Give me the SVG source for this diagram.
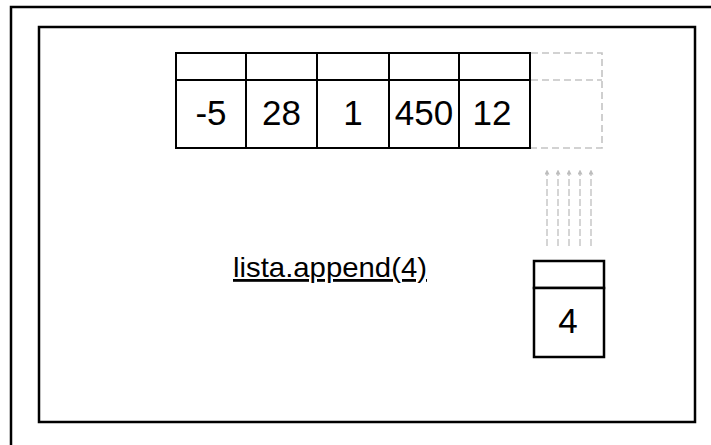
<svg xmlns="http://www.w3.org/2000/svg" width="711" height="445" viewBox="0 0 711 445">
  <style>
    .frame { fill: none; stroke: #000; stroke-width: 2.5; }
    .cell { fill: #fff; stroke: #000; stroke-width: 2; }
    .box { fill: #fff; stroke: #000; stroke-width: 2.5; }
    .ghost { fill: none; stroke: #c4c4c4; stroke-width: 1.6; stroke-dasharray: 7 4; }
    .val { font-family: "Liberation Sans", Arial, sans-serif; font-size: 35px; fill: #000; text-anchor: middle; }
    .code { font-family: "Liberation Sans", Arial, sans-serif; font-size: 28px; fill: #000; text-decoration: underline; }
    .flow { stroke: #c8c8c8; stroke-width: 1.5; stroke-dasharray: 7 3; fill: none; marker-end: url(#tip); }
  </style>
  <defs>
    <marker id="tip" viewBox="0 0 6 6" refX="3" refY="3" markerWidth="5" markerHeight="5" orient="auto" markerUnits="userSpaceOnUse">
      <path d="M0,0 L6,3 L0,6 Z" fill="#bdbdbd"/>
    </marker>
  </defs>

  <rect width="711" height="445" fill="#fff"/>

  <!-- page frames -->
  <rect class="frame" x="11" y="7" width="712" height="450"/>
  <rect class="frame" x="39" y="27" width="656" height="395"/>

  <!-- list cells -->
  <g id="cell-0">
    <rect class="cell" x="176" y="53" width="70" height="27"/>
    <rect class="cell" x="176" y="80" width="70" height="68"/>
    <text class="val" x="211" y="125">-5</text>
  </g>
  <g id="cell-1">
    <rect class="cell" x="246" y="53" width="71" height="27"/>
    <rect class="cell" x="246" y="80" width="71" height="68"/>
    <text class="val" x="281.5" y="125">28</text>
  </g>
  <g id="cell-2">
    <rect class="cell" x="317" y="53" width="72" height="27"/>
    <rect class="cell" x="317" y="80" width="72" height="68"/>
    <text class="val" x="353" y="125">1</text>
  </g>
  <g id="cell-3">
    <rect class="cell" x="389" y="53" width="70" height="27"/>
    <rect class="cell" x="389" y="80" width="70" height="68"/>
    <text class="val" x="424" y="125">450</text>
  </g>
  <g id="cell-4">
    <rect class="cell" x="459" y="53" width="71" height="27"/>
    <rect class="cell" x="459" y="80" width="71" height="68"/>
    <text class="val" x="492" y="125">12</text>
  </g>

  <!-- empty slot for the appended value -->
  <g id="slot-new">
    <path class="ghost" d="M531,53 H602 V148 H531"/>
    <path class="ghost" d="M531,80 H602"/>
  </g>

  <!-- new element -->
  <g id="element-4">
    <rect class="box" x="534" y="261" width="70" height="27"/>
    <rect class="box" x="534" y="288" width="70" height="69"/>
    <text class="val" x="568" y="333">4</text>
  </g>

  <!-- call label -->
  <g id="label">
    <text class="code" x="233" y="277" textLength="194" lengthAdjust="spacingAndGlyphs">lista.append(4)</text>
  </g>

  <!-- connectors: element moving up into the slot -->
  <g id="connectors">
    <line class="flow" x1="547" y1="246" x2="547" y2="172"/>
    <line class="flow" x1="558" y1="246" x2="558" y2="172"/>
    <line class="flow" x1="569" y1="246" x2="569" y2="172"/>
    <line class="flow" x1="580" y1="246" x2="580" y2="172"/>
    <line class="flow" x1="591" y1="246" x2="591" y2="172"/>
  </g>
</svg>
